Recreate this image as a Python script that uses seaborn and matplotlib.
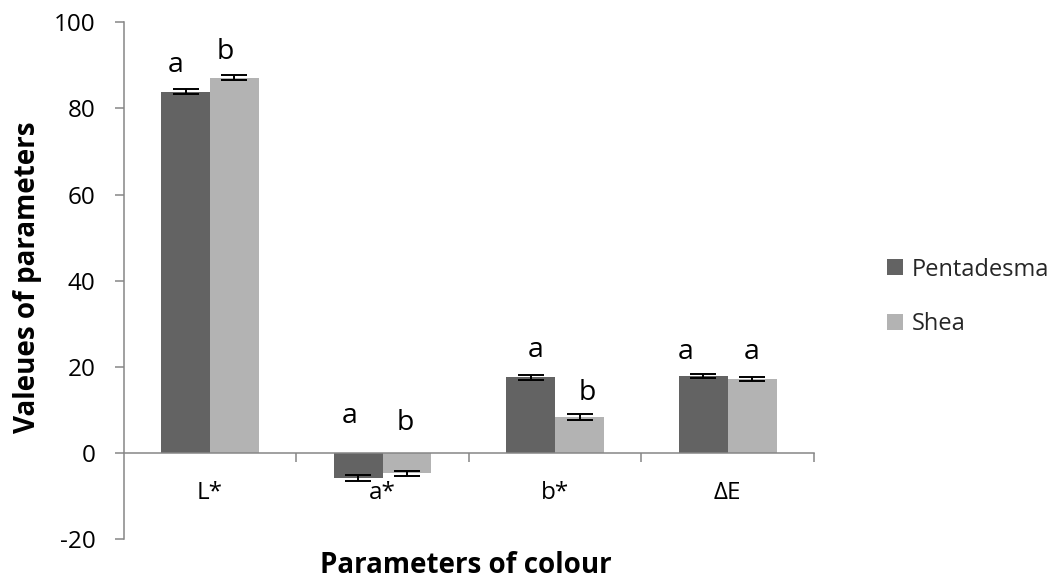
import matplotlib
matplotlib.use("Agg")
import matplotlib.pyplot as plt
from matplotlib.ticker import FixedLocator
import seaborn as sns
import pandas as pd
import numpy as np

# ---- data ----
categories = ["L*", "a*", "b*", "ΔE"]
series = ["Pentadesma", "Shea"]
pentadesma = [83.9, -5.9, 17.6, 17.9]
shea = [87.1, -4.7, 8.3, 17.2]
pentadesma_err = [0.6, 0.7, 0.6, 0.5]
shea_err = [0.6, 0.6, 0.7, 0.5]
pentadesma_letters = ["a", "a", "a", "a"]
shea_letters = ["b", "b", "b", "a"]
# letter placement
pentadesma_letter_y = [90.1, 8.6, 24.0, 23.5]
shea_letter_y = [93.1, 7.0, 14.0, 23.5]
pentadesma_letter_dx = [-0.058, -0.049, 0.029, -0.10]
shea_letter_dx = [-0.055, -0.012, 0.043, 0.0]
y_ticks = [-20, 0, 20, 40, 60, 80, 100]

colors = ["#636363", "#b3b3b3"]
axis_grey = "#868686"

sns.set_theme(style="white")
plt.rcParams["font.family"] = ["Open Sans", "DejaVu Sans"]

df = pd.DataFrame({
    "param": categories * 2,
    "sample": [series[0]] * 4 + [series[1]] * 4,
    "value": pentadesma + shea,
})

fig = plt.figure(figsize=(10.56, 5.79), dpi=100)
ax = fig.add_axes([123.75 / 1056, 1 - 539 / 579, (814 - 123.75) / 1056, (539 - 22.3) / 579])

sns.barplot(data=df, x="param", y="value", hue="sample", order=categories,
            hue_order=series, palette=colors, saturation=1, width=0.566,
            errorbar=None, ax=ax, linewidth=0)

bar_conts = [c for c in ax.containers if hasattr(c, "patches")][:2]
errs = [pentadesma_err, shea_err]
vals = [pentadesma, shea]
letters = [pentadesma_letters, shea_letters]
letter_y = [pentadesma_letter_y, shea_letter_y]
letter_dx = [pentadesma_letter_dx, shea_letter_dx]
for k, cont in enumerate(bar_conts):
    xs = [b.get_x() + b.get_width() / 2 for b in cont.patches]
    ax.errorbar(xs, vals[k], yerr=errs[k], fmt="none", ecolor="black",
                elinewidth=1.4, capsize=9.5, capthick=1.4, zorder=5)
    for i, x in enumerate(xs):
        ax.text(x + letter_dx[k][i], letter_y[k][i], letters[k][i],
                ha="center", va="center", fontsize=20.5, color="black")

ax.set_xlim(-0.5, 3.5)
ax.set_ylim(-20, 100)
ax.set_yticks(y_ticks)
ax.set_yticklabels([str(t) for t in y_ticks], fontsize=17.5)

for s in ["top", "right"]:
    ax.spines[s].set_visible(False)
ax.spines["left"].set_color(axis_grey)
ax.spines["left"].set_linewidth(1.1)
ax.spines["bottom"].set_color(axis_grey)
ax.spines["bottom"].set_linewidth(1.1)
ax.spines["bottom"].set_position(("data", 0))

ax.tick_params(axis="y", which="major", direction="out", length=6.5, width=1.1,
               color=axis_grey, pad=14, labelcolor="black", left=True)

# category labels on major ticks (no tick marks), separators as minor ticks
ax.set_xticks(range(len(categories)))
ax.set_xticklabels(categories)
ax.xaxis.set_minor_locator(FixedLocator([0.5, 1.5, 2.5, 3.5]))
ax.tick_params(axis="x", which="major", length=0, pad=20, labelsize=17.5,
               labelcolor="black", bottom=True)
ax.tick_params(axis="x", which="minor", direction="out", length=6.5, width=1.1,
               color=axis_grey, bottom=True)

ax.set_xlabel("")
ax.set_ylabel("")
fig.text(466 / 1056, 1 - 573 / 579, "Parameters of colour", ha="center",
         va="baseline", fontsize=20, fontweight="bold", color="black")
fig.text(28 / 1056, 1 - 277 / 579, "Valeues of parameters", ha="center",
         va="center", rotation=90, fontsize=20, fontweight="bold", color="black")

handles, labels = ax.get_legend_handles_labels()
if ax.get_legend() is not None:
    ax.get_legend().remove()
fig.legend(handles, labels, loc="center left", bbox_to_anchor=(887 / 1056, 1 - 297 / 579),
           frameon=False, fontsize=17, handlelength=0.68, handleheight=0.68,
           handletextpad=0.35, labelspacing=1.3, borderpad=0, borderaxespad=0)

fig.savefig("out.png", dpi=100, facecolor="white")
